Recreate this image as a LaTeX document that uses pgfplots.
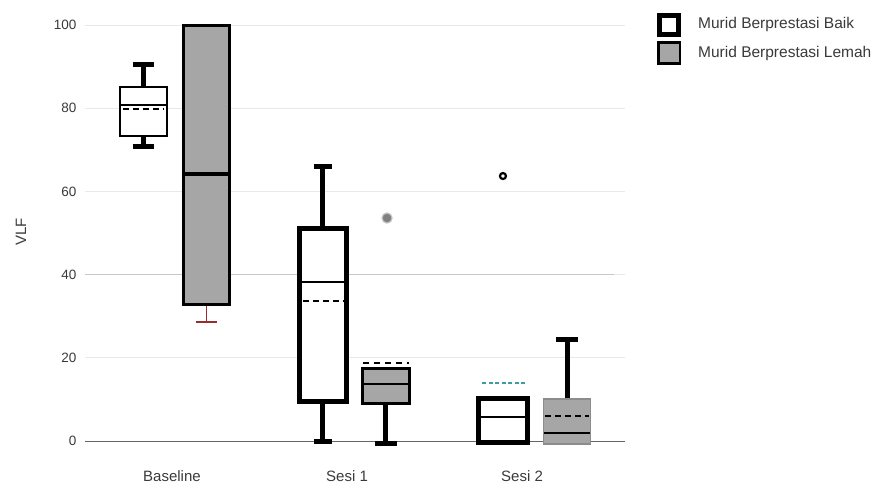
\documentclass[border=0pt]{standalone}
\usepackage{pgfplots}
\pgfplotsset{compat=1.18}
\usepackage{fontspec}
\setmainfont{Liberation Sans}
\definecolor{txt}{HTML}{3A3A3A}
\definecolor{boxgray}{HTML}{A6A6A6}
\definecolor{gridc}{HTML}{E8E8E8}
\definecolor{dred}{HTML}{9B2C2C}
\definecolor{tealc}{HTML}{3D9C9C}
\begin{document}
\begin{tikzpicture}
\useasboundingbox (0,0) rectangle (877pt,484pt);
\begin{axis}[
  at={(85pt,30.5pt)}, anchor=south west,
  scale only axis, width=540pt, height=436.8pt,
  xmin=-0.5, xmax=2.5, ymin=-3, ymax=102,
  clip=false,
  axis line style={draw=none},
  major tick length=0pt,
  xtick={-0.017,0.956,1.928},
  xticklabels={Baseline,Sesi 1,Sesi 2},
  ytick={20,40,60,80,100},
  extra y ticks={0},
  extra y tick style={grid=major, major grid style={color=black!60, line width=1pt}},
  ymajorgrids,
  major grid style={color=gridc, line width=1pt},
  yticklabel style={font=\fontsize{13.5}{15}\selectfont, text=txt, anchor=east, xshift=-5pt},
  xticklabel style={font=\fontsize{15}{17}\selectfont, text=txt, anchor=base, yshift=-27.5pt},
  /pgf/number format/assume math mode=true,
  every axis plot/.append style={line join=miter, line cap=butt},
]
% darker grid line at 40
\addplot[color=black!22, line width=1pt] coordinates {(-0.5,40) (2.44,40)};

% ---------- Baseline - Baik (x = -0.175) ----------
\addplot[black, line width=5pt] coordinates {(-0.175,70.7) (-0.175,73.3)};
\addplot[black, line width=5pt] coordinates {(-0.235,70.7) (-0.115,70.7)};
\addplot[black, line width=5pt] coordinates {(-0.175,85.1) (-0.175,90.6)};
\addplot[black, line width=5pt] coordinates {(-0.235,90.6) (-0.115,90.6)};
\addplot[draw=black, fill=white, line width=2.5pt] coordinates {(-0.305,73.3) (-0.045,73.3) (-0.045,85.1) (-0.305,85.1)} -- cycle;
\addplot[black, line width=2pt] coordinates {(-0.305,80.8) (-0.045,80.8)};
\addplot[black, line width=2pt, dash pattern=on 6pt off 4pt] coordinates {(-0.29,79.8) (-0.06,79.8)};

% ---------- Baseline - Lemah (x = 0.175) ----------
\addplot[dred, line width=1.8pt] coordinates {(0.175,28.6) (0.175,32.7)};
\addplot[dred, line width=1.8pt] coordinates {(0.115,28.6) (0.235,28.6)};
\addplot[draw=black, fill=boxgray, line width=3pt] coordinates {(0.045,32.7) (0.305,32.7) (0.305,100) (0.045,100)} -- cycle;
\addplot[black, line width=4.5pt] coordinates {(0.045,64.2) (0.305,64.2)};

% ---------- Sesi 1 - Baik (x = 0.822) ----------
\addplot[black, line width=5pt] coordinates {(0.822,0) (0.822,9.6)};
\addplot[black, line width=5pt] coordinates {(0.772,0) (0.872,0)};
\addplot[black, line width=5pt] coordinates {(0.822,51) (0.822,65.9)};
\addplot[black, line width=5pt] coordinates {(0.772,65.9) (0.872,65.9)};
\addplot[draw=black, fill=white, line width=5pt] coordinates {(0.692,9.6) (0.952,9.6) (0.952,51) (0.692,51)} -- cycle;
\addplot[black, line width=1.8pt] coordinates {(0.692,38.2) (0.952,38.2)};
\addplot[black, line width=2pt, dash pattern=on 6pt off 4pt] coordinates {(0.71,33.7) (0.94,33.7)};

% ---------- Sesi 1 - Lemah (x = 1.172) ----------
\addplot[black, line width=5pt] coordinates {(1.172,-0.7) (1.172,9.1)};
\addplot[black, line width=5pt] coordinates {(1.112,-0.7) (1.232,-0.7)};
\addplot[draw=black, fill=boxgray, line width=3pt] coordinates {(1.042,9.1) (1.302,9.1) (1.302,17.5) (1.042,17.5)} -- cycle;
\addplot[black, line width=2pt] coordinates {(1.042,13.7) (1.302,13.7)};
\addplot[black, line width=2.5pt, dash pattern=on 6pt off 5pt] coordinates {(1.045,18.7) (1.30,18.7)};
\addplot[only marks, mark=*, mark size=5pt, mark options={fill=black!50, draw=black!25, line width=1.2pt}] coordinates {(1.178,53.6)};

% ---------- Sesi 2 - Baik (x = 1.822) ----------
\addplot[draw=black, fill=white, line width=5pt] coordinates {(1.687,-0.4) (1.957,-0.4) (1.957,10.3) (1.687,10.3)} -- cycle;
\addplot[black, line width=2pt] coordinates {(1.687,5.8) (1.957,5.8)};
\addplot[tealc, line width=2pt, dash pattern=on 4pt off 2.5pt] coordinates {(1.706,14) (1.956,14)};
\addplot[only marks, mark=o, mark size=3pt, mark options={draw=black, line width=2.2pt}] coordinates {(1.822,63.7)};

% ---------- Sesi 2 - Lemah (x = 2.178) ----------
\addplot[black, line width=5pt] coordinates {(2.178,10.1) (2.178,24.5)};
\addplot[black, line width=5pt] coordinates {(2.118,24.5) (2.238,24.5)};
\addplot[draw=black!45, fill=boxgray, line width=1.5pt] coordinates {(2.048,-0.7) (2.308,-0.7) (2.308,10.1) (2.048,10.1)} -- cycle;
\addplot[black, line width=2pt] coordinates {(2.048,1.9) (2.308,1.9)};
\addplot[black, line width=2pt, dash pattern=on 6pt off 4pt] coordinates {(2.055,6) (2.30,6)};
\end{axis}

% y label
\node[rotate=90, text=txt, font=\fontsize{15}{17}\selectfont] at (21pt,252pt) {VLF};

% legend
\draw[black, line width=5pt, fill=white] (659.5pt,449.5pt) rectangle (678.5pt,468.5pt);
\draw[black, line width=2.5pt, fill=boxgray] (658.5pt,420.5pt) rectangle (680pt,441.5pt);
\node[anchor=west, inner sep=0pt, text=txt, font=\fontsize{15.5}{18}\selectfont] at (698pt,459pt) {Murid Berprestasi Baik};
\node[anchor=west, inner sep=0pt, text=txt, font=\fontsize{15.5}{18}\selectfont] at (698pt,431pt) {Murid Berprestasi Lemah};
\end{tikzpicture}
\end{document}
